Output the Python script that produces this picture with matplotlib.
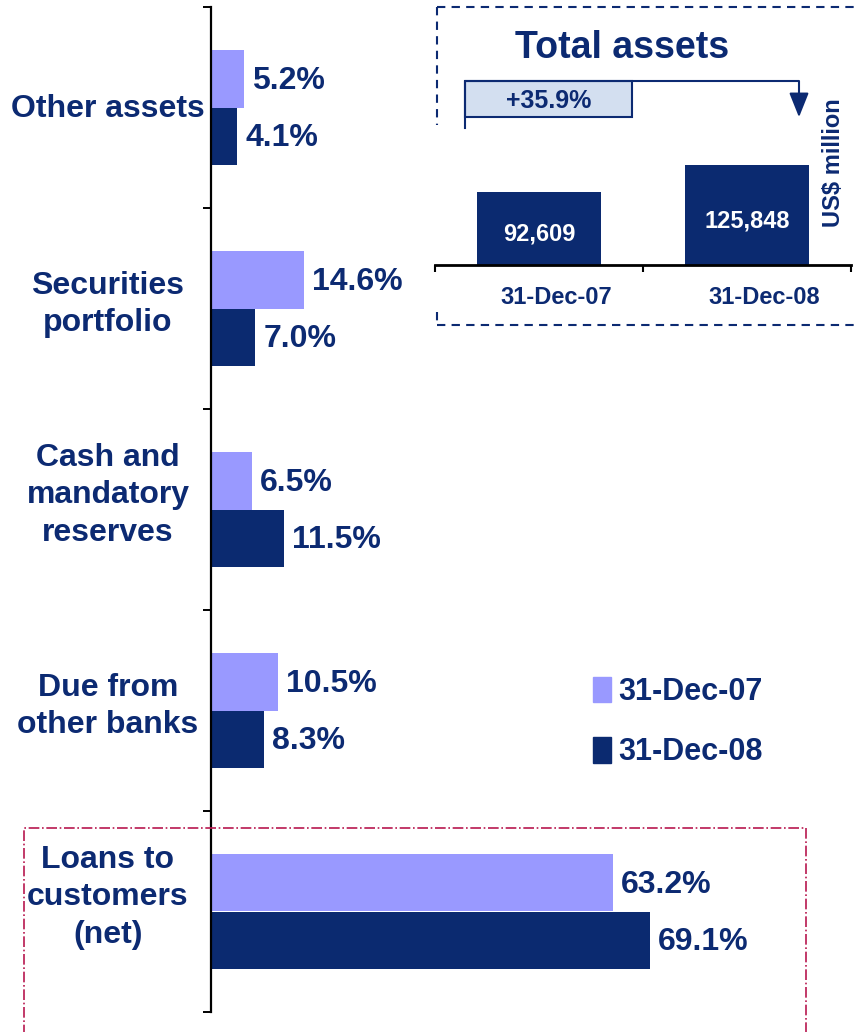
import matplotlib
matplotlib.use("Agg")
import matplotlib.pyplot as plt
from matplotlib.patches import Patch, Rectangle
from matplotlib.lines import Line2D

plt.rcParams['font.family'] = ['Liberation Sans', 'DejaVu Sans']
plt.rcParams['font.weight'] = 'bold'

# Data
categories = ["Other assets", "Securities\nportfolio", "Cash and\nmandatory\nreserves",
              "Due from\nother banks", "Loans to\ncustomers\n(net)"]
share_2007 = [5.2, 14.6, 6.5, 10.5, 63.2]
share_2008 = [4.1, 7.0, 11.5, 8.3, 69.1]
series_labels = ["31-Dec-07", "31-Dec-08"]
total_dates = ["31-Dec-07", "31-Dec-08"]
total_assets = [92609, 125848]

navy = '#0c2a72'
light = '#9999ff'
dark = '#0b2a70'

W, H = 859, 1032
fig = plt.figure(figsize=(W / 100, H / 100), dpi=100)

# main bar chart
ax = fig.add_axes([211 / W, 20 / H, 648 / W, 1005 / H])
n = len(categories)
bh = 0.284
label_shift = {1: 0.005, 2: -0.02, 3: -0.07}  # vertical nudge by number of lines
for i in range(n):
    c = i + 0.5
    ax.barh(c - bh / 2, share_2007[i], height=bh, color=light)
    ax.barh(c + bh / 2, share_2008[i], height=bh, color=dark)
    ax.annotate(f"{share_2007[i]:.1f}%", (share_2007[i], c - bh / 2), xytext=(8, -2),
                textcoords='offset pixels', va='center', ha='left', fontsize=23, color=navy)
    ax.annotate(f"{share_2008[i]:.1f}%", (share_2008[i], c + bh / 2), xytext=(8, -2),
                textcoords='offset pixels', va='center', ha='left', fontsize=23, color=navy)
    nlines = categories[i].count("\n") + 1
    ax.text(-0.159, c + label_shift[nlines], categories[i], transform=ax.get_yaxis_transform(),
            ha='center', va='center', multialignment='center', fontsize=23, color=navy,
            linespacing=1.32)

ax.set_xlim(0, 102)
ax.set_ylim(n, 0)
ax.set_yticks(range(n + 1))
ax.set_yticklabels([])
ax.set_xticks([])
for s in ['top', 'right', 'bottom']:
    ax.spines[s].set_visible(False)
ax.spines['left'].set_linewidth(1.6)
ax.tick_params(axis='y', length=6, width=1.4, direction='out')

# legend
handles = [Patch(color=light), Patch(color=dark)]
ax.legend(handles, series_labels, loc='upper left', bbox_to_anchor=(593 / W, 1 - 677 / H),
          bbox_transform=fig.transFigure, frameon=False, fontsize=22, labelcolor=navy,
          handlelength=0.6, handleheight=0.9, handletextpad=0.22, labelspacing=0.98,
          borderpad=0, borderaxespad=0)

# red dash-dot box around loans
fig.add_artist(Rectangle((24 / W, -0.05), (806 - 24) / W, 0.05 + (H - 828) / H,
                         transform=fig.transFigure, fill=False, edgecolor='#b8184f',
                         linewidth=1.2, linestyle='-.'))

# inset: total assets
ax2 = fig.add_axes([435 / W, (H - 265) / H, 416 / W, 258 / H])
ax2.bar(range(len(total_assets)), total_assets, width=0.6, color=dark)
ax2.set_xlim(-0.5, 1.5)
ax2.set_ylim(0, 326000)
for i, v in enumerate(total_assets):
    ax2.annotate(f"{v:,}", (i, v / 2), xytext=(0, -6), textcoords='offset pixels',
                 ha='center', va='center', color='white', fontsize=17)
    ax2.annotate(total_dates[i], (i, 0), xytext=(17, -32), textcoords='offset pixels',
                 ha='center', va='center', fontsize=17, color=navy, annotation_clip=False)
ax2.set_xticks([-0.5, 0.5, 1.5])
ax2.set_xticklabels([])
ax2.set_yticks([])
for s in ['top', 'right', 'left']:
    ax2.spines[s].set_visible(False)
ax2.spines['bottom'].set_linewidth(2)
ax2.tick_params(axis='x', length=5, width=1.5, direction='out')
ax2.patch.set_alpha(0)

ax2.text(0.45, 0.843, "Total assets", transform=ax2.transAxes, ha='center', va='center',
         fontsize=27, color=navy)
growth = (total_assets[1] / total_assets[0] - 1) * 100
ax2.plot([0.072, 0.072, 0.875, 0.875], [0.531, 0.713, 0.713, 0.62], color=navy, lw=1.5,
         transform=ax2.transAxes, clip_on=False)
ax2.annotate("", xy=(0.875, 0.562), xytext=(0.875, 0.64), xycoords='axes fraction',
             arrowprops=dict(arrowstyle='-|>,head_length=0.5,head_width=0.2', color=navy,
                             lw=1.5, mutation_scale=30))
ax2.add_patch(Rectangle((0.072, 0.574), 0.474 - 0.072, 0.713 - 0.574, transform=ax2.transAxes,
                        facecolor='#d3dff0', edgecolor=navy, lw=1.5, clip_on=False))
ax2.text((0.072 + 0.474) / 2, 0.635, f"+{growth:.1f}%", transform=ax2.transAxes,
         ha='center', va='center', fontsize=18, color=navy)
ax2.text(833 / W, 1 - 163 / H, "US$ million", transform=fig.transFigure, rotation=90,
         ha='center', va='center', fontsize=17, color=navy)

# inset dashed frame
dash_kw = dict(color=navy, lw=1.5, linestyle=(0, (4, 3)), transform=fig.transFigure)
fig.add_artist(Line2D([437 / W, 1.0], [1 - 7 / H, 1 - 7 / H], **dash_kw))
fig.add_artist(Line2D([437 / W, 1.0], [1 - 325 / H, 1 - 325 / H], **dash_kw))
fig.add_artist(Line2D([437 / W, 437 / W], [1 - 7 / H, 1 - 125 / H], **dash_kw))
fig.add_artist(Line2D([437 / W, 437 / W], [1 - 312 / H, 1 - 325 / H], **dash_kw))

fig.savefig("out.png", dpi=100)
